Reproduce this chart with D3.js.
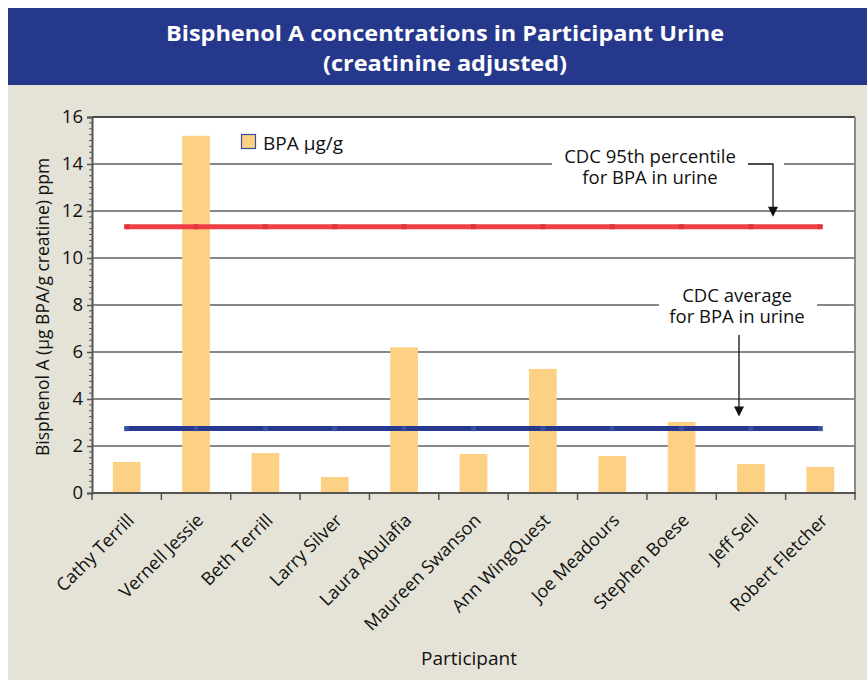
<!DOCTYPE html>
<html><head><meta charset="utf-8">
<script src="https://cdn.jsdelivr.net/npm/d3@7"></script>
<style>
html,body{margin:0;padding:0;background:#fff;}
svg{display:block;}
text{font-family:"Open Sans","Noto Sans",sans-serif;}
</style></head>
<body>
<script>
// ---- data ----
const participants = ["Cathy Terrill","Vernell Jessie","Beth Terrill","Larry Silver","Laura Abulafia","Maureen Swanson","Ann WingQuest","Joe Meadours","Stephen Boese","Jeff Sell","Robert Fletcher"];
const bpaValues = [1.32, 15.2, 1.70, 0.68, 6.2, 1.66, 5.28, 1.57, 3.02, 1.23, 1.11];
const cdc95th = 11.33;
const cdcAverage = 2.74;
const yTicks = [0,2,4,6,8,10,12,14,16];
const titleLines = ["Bisphenol A concentrations in Participant Urine","(creatinine adjusted)"];
const seriesName = "BPA µg/g";
const yAxisTitle = "Bisphenol A  (µg BPA/g creatine) ppm";
const xAxisTitle = "Participant";

const W = 867, H = 680;
const svg = d3.select("body").append("svg").attr("width", W).attr("height", H);

// page background
svg.append("rect").attr("x",8).attr("y",8).attr("width",W-8).attr("height",H-8).attr("fill","#E5E3D7");
svg.append("rect").attr("x",8).attr("y",8).attr("width",W-8).attr("height",77).attr("fill","#25388C");
const tt = svg.append("text").attr("x",445).attr("y",41).attr("text-anchor","middle")
  .attr("fill","#fff").attr("font-weight","bold").attr("font-size",21);
tt.selectAll("tspan").data(titleLines).enter().append("tspan")
  .attr("x",445).attr("dy",(d,i)=>i===0?0:30)
  .attr("textLength",(d,i)=>i===0?558:244).attr("lengthAdjust","spacingAndGlyphs")
  .text(d=>d);

const m = {left:92, right:855, top:117, bottom:493};
const x = d3.scaleBand().domain(participants).range([m.left,m.right]).paddingInner(0).paddingOuter(0);
const y = d3.scaleLinear().domain([0,16]).range([m.bottom,m.top]);
const bw = x.bandwidth()*0.4;

// plot background
svg.append("rect").attr("x",m.left).attr("y",m.top).attr("width",m.right-m.left).attr("height",m.bottom-m.top).attr("fill","#fff");

// gridlines
svg.append("g").selectAll("line").data(yTicks.filter(t=>t>0)).enter().append("line")
  .attr("x1",m.left).attr("x2",m.right).attr("y1",d=>y(d)).attr("y2",d=>y(d))
  .attr("stroke","#111").attr("stroke-width",1.2);

// bars
svg.append("g").selectAll("rect").data(bpaValues).enter().append("rect")
  .attr("x",(d,i)=>x(participants[i])+x.bandwidth()/2-bw/2)
  .attr("width",bw)
  .attr("y",d=>y(d)).attr("height",d=>y(0)-y(d))
  .attr("fill","#FDD184");

// reference lines
function refLine(val, color, mark){
  const pts = participants.map(p=>[x(p)+x.bandwidth()/2, y(val)]);
  svg.append("path").attr("d",d3.line()(pts)).attr("stroke",color).attr("stroke-width",5).attr("fill","none");
  svg.append("g").selectAll("rect").data(pts).enter().append("rect")
    .attr("x",d=>d[0]-2.5).attr("y",d=>d[1]-2.5).attr("width",5).attr("height",5).attr("fill",mark);
}
refLine(cdc95th,"#EE4046","#E3343B");
refLine(cdcAverage,"#26398F","#3550A2");

// annotations
function annot(lines, cx, baseY, box, path, tip){
  svg.append("rect").attr("x",box[0]).attr("y",box[1]).attr("width",box[2]-box[0]).attr("height",box[3]-box[1]).attr("fill","#fff");
  const t = svg.append("text").attr("x",cx).attr("y",baseY).attr("text-anchor","middle")
    .attr("font-size",18.5).attr("fill","#111");
  t.selectAll("tspan").data(lines).enter().append("tspan")
    .attr("x",cx).attr("dy",(d,i)=>i===0?0:20.5).text(d=>d);
  svg.append("path").attr("d",d3.line()(path)).attr("stroke","#111").attr("stroke-width",1.3).attr("fill","none");
  svg.append("path").attr("d",`M${tip[0]-5},${tip[1]-10}L${tip[0]+5},${tip[1]-10}L${tip[0]},${tip[1]}Z`).attr("fill","#111");
}
const tip95 = y(cdc95th)-10, tipAvg = y(cdcAverage)-12;
annot(["CDC 95th percentile","for BPA in urine"], 650, 163, [552,145,784,188],
  [[748,y(14)],[773,y(14)],[773,tip95-8]], [773,tip95]);
annot(["CDC average","for BPA in urine"], 737, 302, [659,284,817,328],
  [[739,335],[739,tipAvg-8]], [739,tipAvg]);

// frame
svg.append("line").attr("x1",m.left).attr("x2",m.right).attr("y1",m.top).attr("y2",m.top).attr("stroke","#111").attr("stroke-width",1.2);
svg.append("line").attr("x1",m.right).attr("x2",m.right).attr("y1",m.top).attr("y2",m.bottom).attr("stroke","#8a8a8a").attr("stroke-width",2);

// y axis
const yAxis = d3.axisLeft(y).tickValues(yTicks).tickSize(5).tickPadding(4);
const gy = svg.append("g").attr("transform",`translate(${m.left},0)`).call(yAxis);
gy.select(".domain").attr("stroke","#555").attr("stroke-width",2);
gy.selectAll(".tick line").attr("stroke","#555").attr("stroke-width",1.5);
gy.selectAll("text").attr("font-size",18.5).attr("fill","#111").attr("font-family","'Open Sans',sans-serif");
// minor ticks
const minor = d3.range(0,16.01,0.25).filter(v=>Math.abs(v/2-Math.round(v/2))>1e-6);
svg.append("g").selectAll("line").data(minor).enter().append("line")
  .attr("x1",m.left-3).attr("x2",m.left).attr("y1",d=>y(d)).attr("y2",d=>y(d))
  .attr("stroke","#555").attr("stroke-width",1);

// x axis
const gx = svg.append("g").attr("transform",`translate(0,${m.bottom})`);
gx.append("line").attr("x1",m.left).attr("x2",m.right+1).attr("stroke","#555").attr("stroke-width",2);
const bounds = participants.map(p=>x(p)).concat([m.right]);
gx.selectAll("line.t").data(bounds).enter().append("line")
  .attr("x1",d=>d).attr("x2",d=>d).attr("y1",0).attr("y2",7).attr("stroke","#555").attr("stroke-width",1.5);
gx.selectAll("text").data(participants).enter().append("text")
  .attr("transform",d=>`translate(${x(d)+x.bandwidth()/2+4},${24}) rotate(-45)`)
  .attr("text-anchor","end").attr("dy","0.35em").attr("font-size",18).attr("fill","#111").text(d=>d);

// axis titles
svg.append("text").attr("transform",`translate(49,307) rotate(-90)`).attr("text-anchor","middle")
  .attr("font-size",17.5).attr("fill","#111").text(yAxisTitle);
svg.append("text").attr("x",469).attr("y",665).attr("text-anchor","middle")
  .attr("font-size",19).attr("fill","#111").text(xAxisTitle);

// legend
svg.append("rect").attr("x",241.5).attr("y",134.5).attr("width",14).attr("height",14)
  .attr("fill","#FDD184").attr("stroke","#3B4A9A").attr("stroke-width",1.2);
svg.append("text").attr("x",263).attr("y",150).attr("font-size",19).attr("fill","#111").text(seriesName);
</script>
</body></html>
